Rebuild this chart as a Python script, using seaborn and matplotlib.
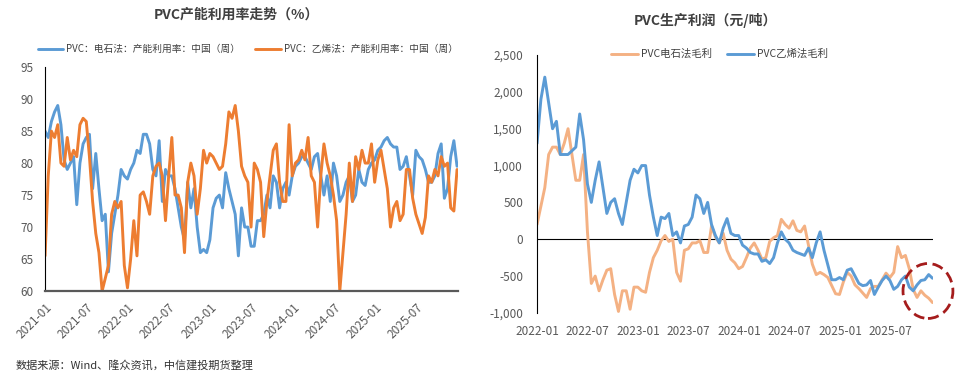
import numpy as np
import pandas as pd
import seaborn as sns
import matplotlib.pyplot as plt
import matplotlib.dates as mdates
from matplotlib.patches import Ellipse

# ---------------------------------------------------------------
# data (~2-week steps)
# ---------------------------------------------------------------
util_start = "2021-01-01"
util_carbide = [85, 84, 86.5, 88, 89, 86, 80.5, 79, 80, 81, 73.5, 80, 83, 84, 84.5, 76,
                81.5, 76, 71, 72, 63, 69, 72, 75, 79, 78, 77.5, 79, 80, 82, 81.5, 84.5,
                84.5, 83, 79, 78, 83.5, 74, 79, 78, 78, 76, 73, 70, 68, 77, 73, 76,
                70, 66, 66.5, 66, 68, 73, 74.5, 75, 73, 78.5, 76, 74, 72, 65.5, 73, 70,
                70, 67, 67, 71, 71, 72, 75, 73, 78, 77, 73, 76, 77, 75, 78, 79.5,
                80, 81, 81, 80, 79, 81, 81.5, 78, 75, 78, 74, 80, 78, 74, 75, 77,
                78, 74, 75, 79, 77, 76.5, 79, 80, 80.5, 82, 82.5, 83.5, 84, 83, 82.5, 82.5,
                79, 79.5, 81, 78, 75, 82, 81, 80.5, 79, 77, 77, 78, 81.5, 83, 74.5, 76,
                81, 83.5, 79.5]
util_ethylene = [65.5, 78, 85, 84, 86, 80, 79.5, 84, 80.5, 82, 81, 86, 87, 86.5, 81, 74,
                 69, 66, 60, 62, 64, 72, 74, 73, 74, 64, 60.5, 65, 71, 65.5, 75, 75.5,
                 74, 72, 78, 79.5, 80, 78, 71, 78, 84, 75, 75, 73, 66, 77, 80, 78,
                 72, 76, 82, 80, 81.5, 81, 80, 79, 79.5, 83, 88, 87, 89, 85, 79.5, 78,
                 77, 70, 80, 79, 77, 68.5, 74, 78, 82, 83, 77, 74, 74, 86, 78, 80,
                 80.5, 82, 80.5, 84, 78, 77, 70, 78, 83, 80, 78, 75, 71, 60, 66, 72,
                 80, 74, 81, 79, 82, 80, 80, 83, 77, 80.5, 82, 79, 76, 70, 73, 74,
                 71, 72, 79, 79, 74.5, 72, 70.5, 69, 71.5, 78, 77, 79, 78, 81, 79.5, 80,
                 73, 72.5, 79]
util_yticks = [60, 65, 70, 75, 80, 85, 90, 95]

profit_start = "2022-01-01"
profit_carbide = [200, 450, 700, 1150, 1250, 1250, 1150, 1300, 1500, 1150, 800, 800, 1150, 100,
                  -600, -500, -700, -550, -420, -400, -750, -980, -700, -700, -950, -650, -650,
                  -700, -720, -450, -250, -150, -20, 50, -30, 0, -450, -570, -150, -130, -50,
                  -50, -20, -180, -180, 180, 30, -50, 80, -150, -270, -320, -400, -370, -250,
                  -120, -50, -150, -270, -250, -30, 20, 50, 270, 200, 150, 250, 120, 100,
                  180, -80, -340, -480, -450, -480, -520, -630, -740, -750, -580, -450, -500,
                  -620, -670, -730, -790, -670, -640, -640, -550, -460, -520, -450, -100, -250,
                  -220, -400, -680, -790, -700, -760, -800, -860]
profit_ethylene = [1300, 1900, 2200, 1850, 1500, 1600, 1150, 1150, 1150, 1200, 1250, 1700, 1350,
                   750, 500, 800, 1050, 700, 350, 500, 550, 350, 200, 500, 800, 950, 900, 1000,
                   1000, 600, 300, 50, 300, 280, 350, 50, 100, -50, 180, 200, 300, 600, 550,
                   350, 500, 200, 50, -50, 150, 280, 80, 50, 50, -80, -120, -180, -200, -200,
                   -300, -280, -330, -250, -50, 100, 0, -50, -150, -180, -200, -220, -120, -250,
                   -50, 100, -150, -350, -550, -550, -520, -550, -420, -400, -500, -600, -630,
                   -620, -560, -750, -650, -560, -500, -560, -680, -640, -550, -500, -650, -700,
                   -620, -560, -550, -480, -530]
profit_yticks = [-1000, -500, 0, 500, 1000, 1500, 2000, 2500]

xtick_util = ["2021-01", "2021-07", "2022-01", "2022-07", "2023-01", "2023-07",
              "2024-01", "2024-07", "2025-01", "2025-07"]
xtick_profit = ["2022-01", "2022-07", "2023-01", "2023-07",
                "2024-01", "2024-07", "2025-01", "2025-07"]

df_util = pd.DataFrame({
    "date": pd.date_range(util_start, periods=len(util_carbide), freq="14D"),
    "carbide": util_carbide,
    "ethylene": util_ethylene,
})
df_profit = pd.DataFrame({
    "date": pd.date_range(profit_start, periods=len(profit_carbide), freq="14D"),
    "carbide": profit_carbide,
    "ethylene": profit_ethylene,
})

# ---------------------------------------------------------------
# style
# ---------------------------------------------------------------
sns.set_style("white")
plt.rcParams["font.family"] = ["Noto Sans CJK SC", "DejaVu Sans"]
plt.rcParams["axes.unicode_minus"] = False

blue = "#5B9BD5"
orange = "#ED7D31"
light_orange = "#F4B183"
grey = "#595959"

fig = plt.figure(figsize=(9.59, 3.77), dpi=100)

##############################################################
# left: utilisation rate
##############################################################
ax1 = fig.add_axes([0.047, 0.228, 0.431, 0.594])
sns.lineplot(data=df_util, x="date", y="carbide", color=blue, lw=2.1, ax=ax1,
             label="PVC：电石法：产能利用率：中国（周）")
sns.lineplot(data=df_util, x="date", y="ethylene", color=orange, lw=2.1, ax=ax1,
             label="PVC：乙烯法：产能利用率：中国（周）")
ax1.set_ylim(60, 95)
ax1.set_yticks(util_yticks)
ax1.set_xlim(pd.Timestamp("2021-01-01"), pd.Timestamp("2026-01-01"))
ax1.set_xticks(pd.to_datetime(xtick_util))
ax1.set_xticklabels(xtick_util, rotation=45, ha="right", rotation_mode="anchor")
ax1.set_xlabel("")
ax1.set_ylabel("")
for s in ["top", "right"]:
    ax1.spines[s].set_visible(False)
ax1.spines["left"].set_color("black")
ax1.spines["left"].set_linewidth(0.8)
ax1.spines["bottom"].set_color(grey)
ax1.spines["bottom"].set_linewidth(1.6)
ax1.tick_params(axis="y", direction="in", length=3, labelsize=8.5, labelcolor=grey, pad=8)
ax1.tick_params(axis="x", length=0, labelsize=8.5, labelcolor=grey, pad=7)
ax1.legend(loc="lower center", bbox_to_anchor=(0.49, 1.04), ncol=2, frameon=False,
           fontsize=7, handlelength=2.6, handletextpad=0.3, columnspacing=1.6,
           labelcolor="#404040", borderaxespad=0)
fig.text(0.247, 0.96, "PVC产能利用率走势（%）", ha="center", va="center",
         fontsize=10, fontweight="bold", color="#404040")

##############################################################
# right: profit
##############################################################
ax2 = fig.add_axes([0.56, 0.17, 0.413, 0.684])
sns.lineplot(data=df_profit, x="date", y="carbide", color=light_orange, lw=2.1, ax=ax2,
             label="PVC电石法毛利")
sns.lineplot(data=df_profit, x="date", y="ethylene", color=blue, lw=2.1, ax=ax2,
             label="PVC乙烯法毛利")
ax2.axhline(0, color="black", lw=0.8, zorder=1)
ax2.set_ylim(-1000, 2500)
ax2.set_yticks(profit_yticks)
ax2.yaxis.set_major_formatter(plt.FuncFormatter(lambda v, p: f"{int(v):,}"))
ax2.set_xlim(pd.Timestamp("2022-01-01"), pd.Timestamp("2025-12-01"))
ax2.set_xticks(pd.to_datetime(xtick_profit))
ax2.set_xticklabels(xtick_profit)
ax2.set_xlabel("")
ax2.set_ylabel("")
for s in ["top", "right", "bottom"]:
    ax2.spines[s].set_visible(False)
ax2.spines["left"].set_color("black")
ax2.spines["left"].set_linewidth(0.8)
ax2.tick_params(axis="y", direction="in", length=3, labelsize=8.5, labelcolor=grey, pad=10)
ax2.tick_params(axis="x", length=0, labelsize=8.5, labelcolor=grey, pad=9)
ax2.legend(loc="upper center", bbox_to_anchor=(0.46, 1.06), ncol=2, frameon=False,
           fontsize=7.5, handlelength=2.6, handletextpad=0.3, columnspacing=1.4,
           labelcolor="#404040")
fig.text(0.736, 0.945, "PVC生产利润（元/吨）", ha="center", va="center",
         fontsize=10, fontweight="bold", color="#404040")

# red dashed circle on the latest readings
circ = Ellipse((0.987, 0.085), 0.126, 0.213, transform=ax2.transAxes, fill=False,
               edgecolor="#A51C1C", lw=2, linestyle=(0, (4, 2)), clip_on=False, zorder=5)
ax2.add_patch(circ)

fig.text(0.016, 0.032, "数据来源：Wind、隆众资讯，中信建投期货整理", ha="left", va="center",
         fontsize=8, style="italic", color="#333333")

fig.savefig("out.png", dpi=100)
